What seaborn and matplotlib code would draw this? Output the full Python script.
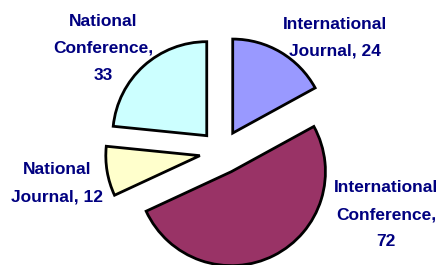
import matplotlib
matplotlib.use('Agg')
import matplotlib.pyplot as plt
import seaborn as sns

# Publication counts by category
categories = ['International\nJournal', 'International\nConference', 'National\nJournal', 'National\nConference']
counts = [24, 72, 12, 33]
colors = ['#9999FF', '#993366', '#FFFFCC', '#CCFFFF']

# label text placement (pixel coords, y measured from the bottom)
label_pos = [(335, 227), (386, 50), (57, 82), (103, 217)]
label_text = ['International\nJournal, 24', 'International\nConference,\n72',
              'National\nJournal, 12', 'National\nConference,\n33']

sns.set_style('white')
plt.rcParams['font.family'] = ['Liberation Sans', 'DejaVu Sans']

fig = plt.figure(figsize=(4.37, 2.65), dpi=100)
ax = fig.add_axes([0, 0, 1, 1])

# explode is in data units here (pixels), radius 94 px
ax.pie(counts, colors=colors, startangle=90, counterclock=False,
       explode=[22] * len(counts), center=(221.5, 113), radius=94,
       wedgeprops=dict(edgecolor='black', linewidth=2.0, joinstyle='miter'))

for (x, y), txt in zip(label_pos, label_text):
    ax.text(x, y, txt, ha='center', va='center', color='#000080',
            fontsize=12.5, fontweight='bold', linespacing=2.0)

ax.set_xlim(0, 437)
ax.set_ylim(0, 265)
ax.set_aspect('equal')
ax.axis('off')

fig.savefig('out.png', dpi=100, facecolor='white')
